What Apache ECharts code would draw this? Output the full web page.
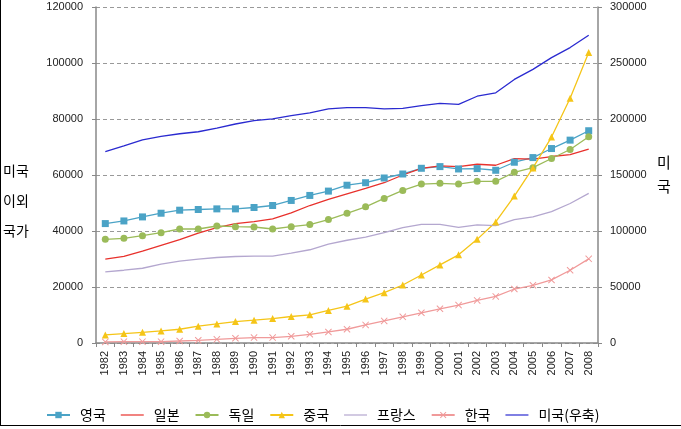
<!DOCTYPE html>
<html><head><meta charset="utf-8">
<script src="https://cdn.jsdelivr.net/npm/echarts@6/dist/echarts.min.js"></script>
<style>
html,body{margin:0;padding:0;background:#fff;}
#c{width:681px;height:429px;}
</style></head>
<body><div id="c"></div>
<script>
const years = ['1982','1983','1984','1985','1986','1987','1988','1989','1990','1991','1992','1993','1994','1995','1996','1997','1998','1999','2000','2001','2002','2003','2004','2005','2006','2007','2008'];
const uk = [42650,43590,45030,46350,47430,47670,47900,47900,48390,49110,50910,52700,54250,56350,57240,58930,60360,62400,63000,62160,62280,61690,64560,66220,69450,72450,75810];
const japan = [29940,30900,32800,34850,36900,39280,41200,42650,43360,44300,46470,49100,51270,53300,55200,57240,60000,62400,63240,63000,63840,63480,65880,65640,66600,67300,69230];
const germany = [37010,37370,38330,39400,40710,40710,41790,41550,41430,40710,41550,42280,44070,46300,48630,51620,54500,56770,57010,56770,57730,57730,60970,62630,65880,69110,73660];
const china = [2870,3350,3830,4310,4910,5990,6830,7660,8140,8740,9460,10060,11620,13150,15690,17960,20710,24300,27900,31490,37010,43240,52460,62520,73540,87430,103710];
const france = [25390,25990,26700,28140,29220,29940,30540,30900,31020,31020,32100,33300,35330,36700,37840,39400,41200,42400,42400,41320,42160,41920,44070,45030,46950,49830,53420];
const korea = [400,480,480,480,720,960,1310,1670,1920,1920,2400,3110,3950,4910,6470,7900,9340,10780,12220,13530,15210,16650,19280,20600,22520,25990,30060];
const usa = [170930,176050,181440,184430,186830,188620,191940,195530,198500,200030,203000,205420,209010,210200,210180,209010,209550,211980,214040,213140,220330,223380,235330,244310,254800,263790,274850];
const names = ['영국','일본','독일','중국','프랑스','한국','미국(우축)'];

const crossPath = 'path://M0,1L1,0L5,4L9,0L10,1L6,5L10,9L9,10L5,6L1,10L0,9L4,5Z';
const linePath = 'path://M0,3.4H23V4.6H0Z';
const lblFont = 'Liberation Sans, Arial, sans-serif';
const krFont = 'Noto Sans CJK KR, sans-serif';

function s(name, data, color, symbol, size, yIdx, width) {
  return {
    name, type: 'line', data, yAxisIndex: yIdx || 0,
    symbol: symbol || 'none', symbolSize: size || 7, showSymbol: !!symbol,
    lineStyle: {color, width: width || 1.3},
    itemStyle: {color},
    emphasis: {disabled: true}, animation: false, z: 3
  };
}

const chart = echarts.init(document.getElementById('c'), null, {renderer: 'canvas'});
chart.setOption({
  animation: false,
  grid: {left: 96, right: 83, top: 7, bottom: 86},
  legend: {
    top: 403, left: 41, itemWidth: 23, itemHeight: 8, itemGap: 15,
    textStyle: {fontFamily: krFont, fontSize: 14, color: '#000', padding: [0, 0, 0, 5]},
    data: [
      {name: names[0]},
      {name: names[1], icon: linePath},
      {name: names[2]},
      {name: names[3]},
      {name: names[4], icon: linePath},
      {name: names[5]},
      {name: names[6], icon: linePath}
    ]
  },
  xAxis: {
    type: 'category', data: years, boundaryGap: true,
    axisLine: {lineStyle: {color: '#888', width: 1.5}},
    axisTick: {show: true, interval: 0, length: 4, lineStyle: {color: '#888'}},
    axisLabel: {interval: 0, rotate: 90, fontFamily: lblFont, fontSize: 11, color: '#222', margin: 8}
  },
  yAxis: [{
    type: 'value', min: 0, max: 120000, interval: 20000, position: 'left',
    axisLine: {show: true, lineStyle: {color: '#888', width: 1.5}},
    axisTick: {show: true, length: 4, lineStyle: {color: '#888'}},
    axisLabel: {fontFamily: lblFont, fontSize: 11, color: '#222', margin: 13, formatter: v => String(v)},
    splitLine: {show: true, lineStyle: {color: '#999', type: [4, 3], width: 1}}
  }, {
    type: 'value', min: 0, max: 300000, interval: 50000, position: 'right',
    axisLine: {show: true, lineStyle: {color: '#888', width: 1.5}},
    axisTick: {show: true, length: 4, lineStyle: {color: '#888'}},
    axisLabel: {fontFamily: lblFont, fontSize: 11, color: '#222', margin: 12, formatter: v => String(v)},
    splitLine: {show: false}
  }],
  graphic: [
    {type: 'text', left: 3, top: 163, style: {text: '미국\n\n이외\n\n국가', font: '14px ' + krFont, fill: '#000', lineHeight: 15}},
    {type: 'text', left: 657, top: 155, style: {text: '미\n\n국', font: '15px ' + krFont, fill: '#000', lineHeight: 12}},
    {type: 'line', shape: {x1: 0.5, y1: 0, x2: 0.5, y2: 425.5}, style: {stroke: '#000', lineWidth: 1}},
    {type: 'line', shape: {x1: 0, y1: 425.5, x2: 681, y2: 425.5}, style: {stroke: '#000', lineWidth: 1}}
  ],
  series: [
    s(names[0], uk, '#4BA3C6', 'rect', 7),
    s(names[1], japan, '#E8312C', null),
    s(names[2], germany, '#9BBB59', 'circle', 7),
    s(names[3], china, '#F5C518', 'triangle', 7),
    s(names[4], france, '#B4A7CF', null),
    s(names[5], korea, '#F09A9A', crossPath, 7),
    s(names[6], usa, '#2A2AD0', null, 0, 1)
  ]
});
</script></body></html>
